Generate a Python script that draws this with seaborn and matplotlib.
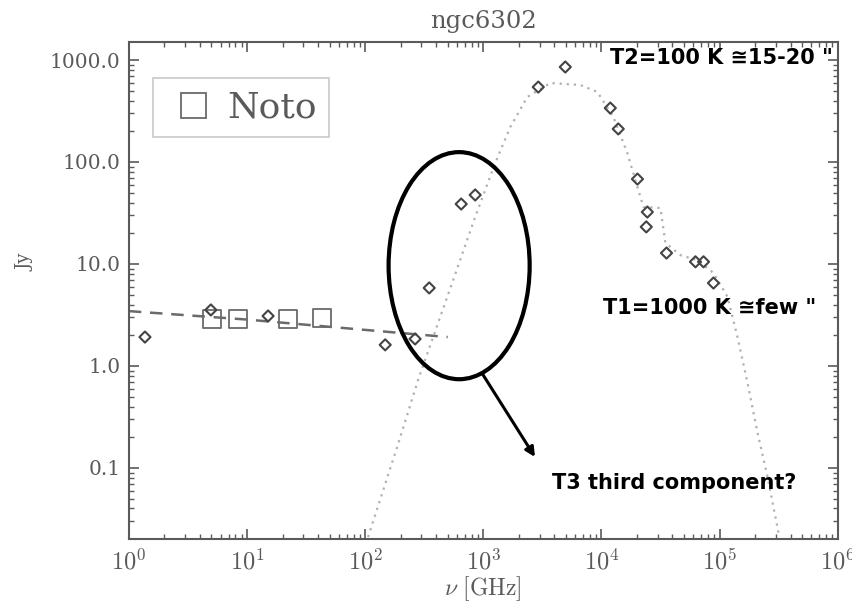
import matplotlib
matplotlib.use('Agg')
import numpy as np
import pandas as pd
import matplotlib.pyplot as plt
import seaborn as sns
from matplotlib.patches import Ellipse
from matplotlib.lines import Line2D
from matplotlib.ticker import LogLocator, NullFormatter

# ---------------- data ----------------
diamond_freq = [1.37, 4.95, 15.1, 148, 265, 349, 651, 855, 2924, 4950,
                11900, 13900, 20200, 24500, 24000, 35600, 62600, 73200, 88900]
diamond_flux = [1.92, 3.54, 3.09, 1.61, 1.84, 5.82, 38.7, 47.5, 543, 854,
                338, 211, 68, 32.3, 23.1, 12.8, 10.5, 10.5, 6.5]

noto_freq = [5.05, 8.39, 22.3, 43.2]
noto_flux = [2.89, 2.89, 2.89, 2.95]

ff_freq = [1, 10, 50, 500]
ff_flux = [3.45, 2.85, 2.42, 1.92]

dust_freq = [106, 187, 281, 557, 855, 1264, 1694, 2361, 3698, 6637, 9250,
             12640, 16600, 20180, 22700, 31600, 34850, 46700, 65100, 88900,
             117000, 142000, 172700, 210000, 255000, 316000]
dust_flux = [0.021, 0.161, 0.73, 6.97, 28.9, 97.8, 220, 434, 595, 569, 486,
             276, 122, 56.9, 36.2, 35.4, 16.1, 12.2, 10.9, 8.16,
             4.75, 1.92, 0.68, 0.22, 0.082, 0.023]

ytick_vals = [0.1, 1, 10, 100, 1000]
ytick_labels = ["0.1", "1.0", "10.0", "100.0", "1000.0"]
xtick_vals = [1, 10, 100, 1000, 10000, 100000, 1000000]
xtick_labels = [r"$10^{0}$", r"$10^{1}$", r"$10^{2}$", r"$10^{3}$",
                r"$10^{4}$", r"$10^{5}$", r"$10^{6}$"]

title = "ngc6302"
legend_label = "Noto"
note_t2 = "T2=100 K \u224515-20 \""
note_t1 = "T1=1000 K \u2245few \""
note_t3 = "T3 third component?"

# ---------------- style ----------------
sns.set_theme(style="ticks")
plt.rcParams["font.family"] = ["DejaVu Serif", "DejaVu Sans"]
plt.rcParams["mathtext.fontset"] = "cm"

GRAY = "#5a5a5a"

fig = plt.figure(figsize=(8.53, 6.06), dpi=100)
ax = fig.add_axes([0.151, 0.1106, 0.831, 0.820])

df_d = pd.DataFrame({"freq": diamond_freq, "flux": diamond_flux})
df_n = pd.DataFrame({"freq": noto_freq, "flux": noto_flux})
df_ff = pd.DataFrame({"freq": ff_freq, "flux": ff_flux})
df_dust = pd.DataFrame({"freq": dust_freq, "flux": dust_flux})

sns.lineplot(data=df_dust, x="freq", y="flux", ax=ax, color="#b0b0b0",
             lw=1.6, linestyle=(0, (1, 2.2)), sort=False, zorder=1)
sns.lineplot(data=df_ff, x="freq", y="flux", ax=ax, color="#6a6a6a",
             lw=1.8, linestyle=(0, (5, 3.5)), sort=False, zorder=2)
sns.scatterplot(data=df_n, x="freq", y="flux", ax=ax, marker="s", s=170,
                facecolor="none", edgecolor="#6a6a6a", linewidth=1.3, zorder=3)
sns.scatterplot(data=df_d, x="freq", y="flux", ax=ax, marker="D", s=32,
                facecolor="none", edgecolor="#444444", linewidth=1.5, zorder=4)

ax.set_xscale("log")
ax.set_yscale("log")
ax.set_xlim(1, 1e6)
ax.set_ylim(0.0201, 1500)

ax.set_yticks(ytick_vals, labels=ytick_labels)
ax.set_xticks(xtick_vals, labels=xtick_labels)
ax.xaxis.set_minor_locator(LogLocator(base=10, subs=np.arange(2, 10), numticks=20))
ax.yaxis.set_minor_locator(LogLocator(base=10, subs=np.arange(2, 10), numticks=20))
ax.xaxis.set_minor_formatter(NullFormatter())
ax.yaxis.set_minor_formatter(NullFormatter())

ax.tick_params(which="both", direction="in", top=True, right=True, color=GRAY)
ax.tick_params(which="major", length=7, width=1.2)
ax.tick_params(which="minor", length=3.5, width=1.0)
ax.tick_params(axis="y", labelsize=14.5, labelcolor=GRAY, pad=6)
ax.tick_params(axis="x", labelsize=17.5, labelcolor=GRAY, pad=7)

for sp in ax.spines.values():
    sp.set_color(GRAY)
    sp.set_linewidth(1.5)

ax.set_xlabel(r"$\nu\ [\mathrm{GHz}]$", fontsize=17, color=GRAY, labelpad=0)
ax.set_ylabel("Jy", fontsize=13, color=GRAY)
ax.yaxis.set_label_coords(-0.133, 0.557)
ax.set_title(title, fontsize=17.5, color=GRAY, pad=10)

handle = Line2D([], [], marker="s", ls="none", ms=18, mfc="none",
                mec="#6a6a6a", mew=1.3)
leg = ax.legend([handle], [legend_label], loc="upper left",
                bbox_to_anchor=(0.034, 0.928), borderaxespad=0,
                prop={"family": "DejaVu Serif", "size": 26},
                frameon=True, fancybox=False, handletextpad=0.2,
                borderpad=0.35, handlelength=1.5)
leg.get_frame().set_edgecolor("#bbbbbb")
leg.get_frame().set_linewidth(1.2)
for t in leg.get_texts():
    t.set_color(GRAY)

# annotations
ell = Ellipse((0.466, 0.550), 0.199, 0.457, transform=ax.transAxes,
              fill=False, edgecolor="black", lw=3, zorder=6)
ax.add_patch(ell)
ax.annotate("", xy=(0.573, 0.165), xytext=(0.499, 0.332),
            xycoords="axes fraction", textcoords="axes fraction",
            arrowprops=dict(arrowstyle="-|>", color="black", lw=2.2,
                            mutation_scale=14, shrinkA=0, shrinkB=0), zorder=6)

txt_kw = dict(transform=ax.transAxes, fontsize=15, fontweight="bold",
              family=["DejaVu Sans"], color="black", zorder=7)
ax.text(0.993, 0.968, note_t2, ha="right", va="center", **txt_kw)
ax.text(0.669, 0.465, note_t1, ha="left", va="center", **txt_kw)
ax.text(0.597, 0.113, note_t3, ha="left", va="center", **txt_kw)

fig.savefig("out.png", dpi=100)
